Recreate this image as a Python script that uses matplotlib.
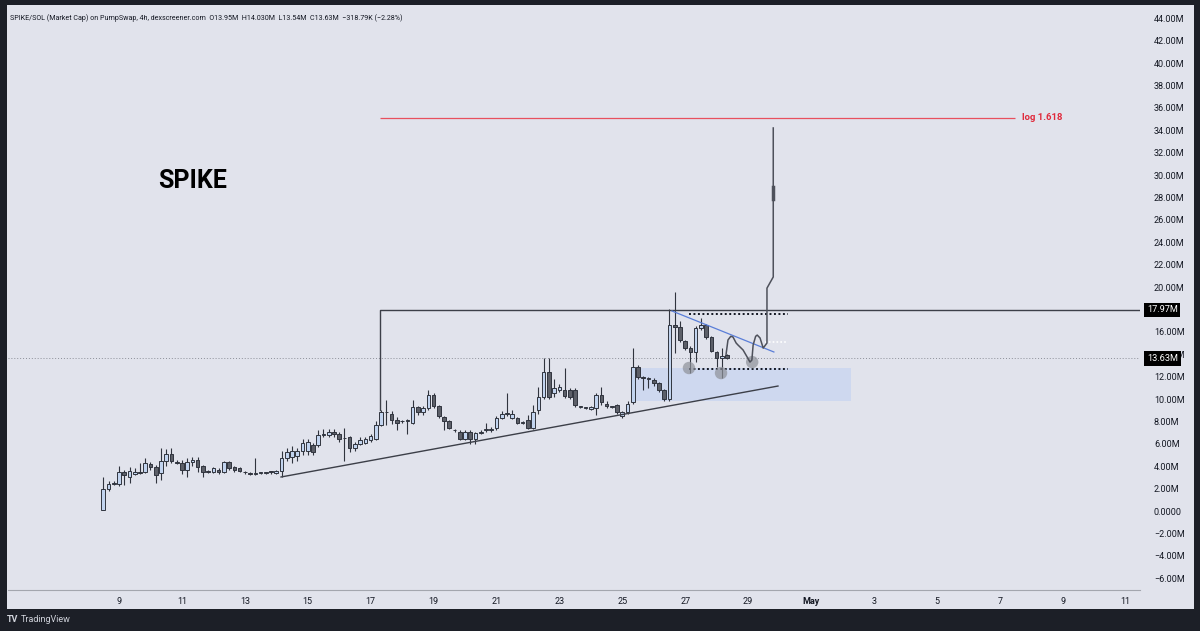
import numpy as np
import matplotlib.pyplot as plt
from matplotlib.patches import Rectangle
import matplotlib.transforms as mtransforms

plt.rcParams['font.family'] = ['Roboto', 'DejaVu Sans']

# 4h candles, x axis is day of April (May 1 = 31); first candle opens Apr 8 12:00
first_day = 8.5
candle_step = 1 / 6
opens = [0.1, 2.0, 2.4, 2.4, 3.5, 3.0, 3.3, 3.5, 3.5, 4.2, 3.9, 3.4, 4.5, 5.1, 4.4, 4.3, 3.7, 4.4, 4.6, 4.0,
         3.6, 3.5, 3.7, 3.5, 4.4, 3.9, 3.8, 3.45, 3.35, 3.3, 3.4, 3.4, 3.5, 3.4, 3.6, 4.7, 4.8, 4.9, 5.4, 5.4,
         5.9, 5.9, 6.8, 6.8, 7.1, 6.9, 6.5, 6.6, 5.6, 6.0, 6.1, 6.3, 6.4, 7.7, 8.8, 8.7, 8.1, 8.0, 8.0, 7.9,
         9.3, 8.8, 9.2, 10.4, 9.4, 8.4, 8.0, 7.2, 7.1, 6.4, 7.1, 6.4, 7.0, 7.2, 7.2, 7.4, 8.3, 8.7, 8.3, 8.3,
         7.9, 8.1, 7.4, 9.0, 10.2, 12.4, 10.5, 10.8, 10.8, 10.8, 10.8, 9.3, 9.2, 9.1, 9.2, 10.4, 9.6, 9.3, 9.5, 8.5,
         8.8, 9.7, 12.9, 12.0, 11.8, 11.7, 11.4, 10.8, 10.0, 16.6, 16.4, 15.2, 14.6, 14.2, 16.3, 16.6, 15.5, 14.2, 13.7, 13.95]
highs = [3.0, 2.7, 2.7, 4.0, 3.7, 3.9, 3.8, 4.3, 4.7, 4.4, 4.1, 5.6, 5.5, 5.6, 4.6, 4.6, 4.7, 4.8, 4.8, 4.1,
         3.7, 3.9, 3.8, 4.5, 4.5, 4.0, 3.9, 3.6, 3.5, 4.7, 3.5, 3.5, 3.6, 3.7, 5.4, 5.6, 5.8, 5.6, 6.4, 6.4,
         6.1, 7.2, 7.3, 7.3, 7.3, 7.1, 7.4, 6.7, 6.2, 6.6, 6.6, 6.9, 8.0, 9.0, 9.9, 8.9, 8.4, 8.1, 8.2, 9.9,
         9.4, 9.4, 10.8, 10.5, 9.5, 8.5, 8.1, 7.3, 7.2, 7.2, 7.2, 7.1, 7.2, 7.9, 7.5, 8.5, 8.9, 10.5, 9.0, 8.4,
         8.0, 8.6, 9.5, 11.1, 13.7, 13.7, 11.8, 11.3, 12.8, 11.0, 11.0, 9.4, 9.3, 9.4, 10.5, 11.1, 9.8, 9.4, 9.6, 8.9,
         9.8, 14.6, 13.0, 12.1, 12.0, 11.9, 11.5, 10.9, 18.0, 19.6, 17.0, 15.3, 14.7, 16.5, 17.2, 16.7, 15.6, 14.3, 14.6, 14.03]
lows = [0.05, 1.8, 2.3, 2.2, 2.3, 2.5, 3.2, 3.3, 3.4, 3.7, 2.5, 2.8, 4.0, 4.3, 4.2, 3.3, 3.0, 4.0, 3.5, 3.0,
        3.4, 3.4, 3.3, 3.4, 3.7, 3.5, 3.5, 3.3, 3.2, 3.2, 3.3, 3.3, 3.3, 3.3, 3.0, 4.5, 4.3, 4.5, 5.0, 5.0,
        5.0, 5.7, 6.6, 6.6, 6.6, 6.2, 4.5, 5.3, 5.4, 5.9, 6.0, 6.2, 6.3, 7.6, 7.7, 7.8, 7.2, 7.9, 6.9, 7.8,
        8.6, 8.6, 9.0, 9.2, 8.3, 7.2, 7.3, 7.1, 6.3, 6.3, 6.0, 6.0, 6.9, 7.1, 7.1, 7.2, 8.2, 8.5, 8.2, 7.8,
        7.8, 7.3, 7.3, 8.7, 10.0, 10.0, 10.2, 10.6, 10.1, 10.0, 9.3, 9.2, 9.1, 9.0, 8.6, 9.5, 9.2, 9.2, 8.7, 8.3,
        8.7, 9.6, 11.8, 10.8, 11.0, 11.2, 10.6, 9.8, 9.8, 14.1, 15.1, 14.4, 12.3, 13.3, 16.2, 15.4, 14.2, 12.9, 11.9, 13.54]
closes = [2.0, 2.4, 2.5, 3.5, 3.2, 3.6, 3.5, 3.4, 4.3, 3.9, 3.2, 4.5, 5.1, 4.5, 4.3, 3.7, 4.4, 4.6, 3.9, 3.5,
          3.5, 3.8, 3.5, 4.4, 3.8, 3.7, 3.6, 3.4, 3.3, 3.35, 3.4, 3.45, 3.45, 3.6, 4.7, 5.3, 5.4, 5.4, 6.1, 6.2,
          5.3, 6.8, 6.8, 7.1, 6.9, 6.4, 6.5, 5.6, 6.0, 6.3, 6.4, 6.7, 7.7, 8.8, 8.8, 8.1, 7.9, 8.0, 8.1, 9.3,
          8.8, 9.2, 10.4, 9.4, 8.5, 8.0, 7.4, 7.2, 6.4, 7.1, 6.4, 7.0, 7.1, 7.3, 7.3, 8.3, 8.7, 8.7, 8.7, 7.9,
          7.9, 7.4, 8.8, 10.2, 12.4, 10.2, 11.0, 11.1, 10.3, 10.2, 9.5, 9.3, 9.2, 9.3, 10.4, 9.7, 9.4, 9.3, 8.8, 8.8,
          9.6, 12.9, 12.0, 11.9, 11.8, 11.4, 10.8, 10.0, 16.6, 16.4, 15.3, 14.6, 14.2, 16.3, 16.6, 15.5, 14.3, 13.7, 13.8, 13.63]

last_price = 13.63
breakout_level = 17.97
fib_level = 35.1

# drawings (day, value in M)
trend_x = [14.15, 29.95]
trend_y = [3.04, 11.16]
wedge_x = [26.58, 29.82]
wedge_y = [17.86, 14.2]
box_x = [17.3, 17.3]
box_y = [9.0, breakout_level]
zone_x = [25.31, 32.28]
zone_y = [9.82, 12.77]
dots_x = [27.12, 30.27]
dots_top = 17.6
dots_bottom = 12.7
touch_x = [27.12, 28.14, 29.13]
touch_y = [12.77, 12.32, 13.3]
proj_x = [28.30, 28.36, 28.45, 28.52, 28.62, 28.68, 28.84, 28.97, 29.06, 29.12, 29.16, 29.24, 29.29,
          29.38, 29.48, 29.60, 29.60, 29.80, 29.80]
proj_y = [14.0, 15.27, 15.6, 15.54, 15.0, 14.82, 14.38, 13.75, 13.3, 13.48, 14.82, 15.6, 15.71,
          15.45, 14.55, 15.0, 19.9, 20.9, 34.2]

day_ticks = [9, 11, 13, 15, 17, 19, 21, 23, 25, 27, 29, 31, 33, 35, 37, 39, 41]
day_labels = ['9', '11', '13', '15', '17', '19', '21', '23', '25', '27', '29', 'May', '3', '5', '7', '9', '11']
price_ticks = np.arange(-6, 45, 2)

bg = '#e1e3ec'
dark = '#1c1f27'
ink = '#131722'
up_col = '#c2d4ef'
down_col = '#5c5f68'
edge_col = '#30343e'

fig = plt.figure(figsize=(12, 6.31), dpi=100, facecolor=dark)
fig.patches.append(Rectangle((7 / 1200, 22 / 631), 1187 / 1200, 604 / 631, transform=fig.transFigure,
                             facecolor=bg, edgecolor='none', zorder=-5))
ax = fig.add_axes([8 / 1200, 41 / 631, 1132 / 1200, 585 / 631])
ax.set_facecolor(bg)
ax.set_xlim(5.47, 41.46)
ax.set_ylim(-7.05, 45.18)

# candles
o = np.array(opens)
h = np.array(highs)
l = np.array(lows)
c = np.array(closes)
x = first_day + np.arange(len(o)) * candle_step
up = c >= o
ax.vlines(x, l, h, color=edge_col, lw=0.8, zorder=3)
body = np.where(np.abs(c - o) < 0.06, 0.06, c - o)
ax.bar(x, body, bottom=o, width=0.115, color=np.where(up, up_col, down_col),
       edgecolor=edge_col, linewidth=0.7, zorder=4)

# drawings
ax.add_patch(Rectangle((zone_x[0], zone_y[0]), zone_x[1] - zone_x[0], zone_y[1] - zone_y[0],
                       facecolor='#ced8ef', edgecolor='none', zorder=1))
ax.axhline(last_price, color='#8c8f98', lw=0.7, ls=(0, (1, 2)), zorder=2)
ax.plot(trend_x, trend_y, color='#3c3f48', lw=1.0, zorder=5)
ax.plot(box_x + [ax.get_xlim()[1]], box_y + [breakout_level], color='#3c3f48', lw=1.0, zorder=5)
ax.hlines(fib_level, box_x[0], 37.5, color='#e8505e', lw=0.9, zorder=5)
ax.text(37.72, fib_level, 'log 1.618', color='#e0283a', fontsize=6.8, fontweight='bold',
        ha='left', va='center')
ax.plot(wedge_x, wedge_y, color='#5a7ed8', lw=0.9, zorder=5)
ax.hlines([dots_top, dots_bottom], dots_x[0], dots_x[1], color=ink, lw=1.4, linestyles=(0, (1, 1.3)), zorder=5)
ax.hlines(15.09, 29.54, 30.27, color='white', lw=1.2, linestyles=(0, (1, 1.3)), zorder=5)
ax.scatter(touch_x, touch_y, s=80, color='#8e9199', alpha=0.7, edgecolors='none', zorder=6)
ax.plot(proj_x, proj_y, color='#4e515b', lw=1.1, zorder=6)
ax.plot([29.80, 29.80], [27.9, 28.9], color='#4e515b', lw=2.5, zorder=6)

ax.text(11.35, 29.5, 'SPIKE', fontsize=18, fontweight='bold', color='#000000', ha='center', va='center')

# axes styling
for s in ['top', 'left', 'right']:
    ax.spines[s].set_visible(False)
ax.spines['bottom'].set_color('#a3a6ae')
ax.spines['bottom'].set_linewidth(0.8)
ax.yaxis.tick_right()
ax.set_yticks(price_ticks)
# 18.00M sits under the 17.97M marker box, so it is left blank
ax.set_yticklabels(['' if v == 18 else '0.0000' if v == 0 else f'{v:.2f}M'.replace('-', '\u2212')
                    for v in price_ticks])
ax.set_xticks(day_ticks)
ax.set_xticklabels(day_labels)
ax.tick_params(axis='y', length=0, pad=10, labelsize=6.5, labelcolor=ink)
ax.tick_params(axis='x', length=0, pad=5, labelsize=6.5, labelcolor=ink)
ax.get_xticklabels()[11].set_fontweight('bold')

trans = mtransforms.blended_transform_factory(ax.transAxes, ax.transData)
for v, txt in [(breakout_level, '17.97M'), (last_price, '13.63M')]:
    ax.text(1.006, v, txt, transform=trans, color='white', fontsize=6.6, ha='left', va='center', zorder=10,
            clip_on=False, bbox=dict(boxstyle='square,pad=0.3', facecolor='#000000', edgecolor='none'))

fig.text(10 / 1200, 1 - 18 / 631,
         'SPIKE/SOL (Market Cap) on PumpSwap, 4h, dexscreener.com  O13.95M  H14.030M  L13.54M  C13.63M  '
         '\u2212318.79K (\u22122.28%)', fontsize=5.1, color=ink, va='center')
fig.text(7 / 1200, 11 / 631, 'TV', fontsize=6.5, fontweight='bold', color='#d1d4dc', va='center')
fig.text(21 / 1200, 11 / 631, 'TradingView', fontsize=6.5, color='#d1d4dc', va='center')

fig.savefig('out.png', dpi=100, facecolor=dark)
